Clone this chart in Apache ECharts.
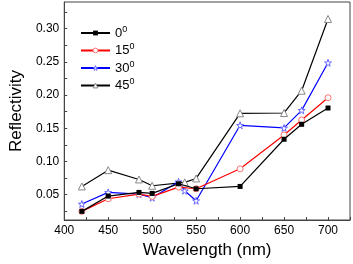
<!DOCTYPE html>
<html>
<head>
<meta charset="utf-8">
<script src="https://cdn.jsdelivr.net/npm/echarts@6/dist/echarts.min.js"></script>
<style>
    html, body { margin: 0; padding: 0; background: #fff; }
    #chart { width: 353px; height: 264px; }
</style>
</head>
<body>
<div id="chart"></div>
<script>
    // wavelength (nm)
    const wavelengths0 = [420, 450, 485, 500, 530, 550, 600, 650, 670, 700]
    const angle0 = [0.025, 0.048, 0.0535, 0.052, 0.0665, 0.059, 0.0625, 0.1335, 0.156, 0.1805]
    const wavelengths15 = [420, 450, 485, 500, 530, 550, 600, 650, 670, 700]
    const angle15 = [0.025, 0.044, 0.051, 0.0475, 0.0615, 0.059, 0.089, 0.14, 0.1625, 0.196]
    const wavelengths30 = [420, 450, 485, 500, 530, 537, 550, 600, 650, 670, 700]
    const angle30 = [0.036, 0.0535, 0.051, 0.0455, 0.0695, 0.056, 0.041, 0.1545, 0.1505, 0.177, 0.2485]
    const wavelengths45 = [420, 450, 485, 500, 537, 550, 600, 650, 670, 700]
    const angle45 = [0.0625, 0.087, 0.073, 0.0635, 0.0686, 0.0745, 0.1725, 0.173, 0.2065, 0.3145]
    const seriesNames = ['0', '15', '30', '45']

    const xLabels = [400, 450, 500, 550, 600, 650, 700]
    const xTicks = [400, 425, 450, 475, 500, 525, 550, 575, 600, 625, 650, 675, 700, 725]
    const yLabels = [0.05, 0.10, 0.15, 0.20, 0.25, 0.30]
    const yTicks = [0.025, 0.05, 0.075, 0.10, 0.125, 0.15, 0.175, 0.20, 0.225, 0.25, 0.275, 0.30, 0.325]

    const font = 'Liberation Sans, Arial, sans-serif'
    const starPath = 'path://M50,0 L61,35 L98,35 L68,57 L79,91 L50,70 L21,91 L32,57 L2,35 L39,35 Z'

    //  marker styles per series, shared by plot and legend
    const marks = [
        { symbol: 'rect', size: 5, line: '#000', item: { color: '#000' } },
        { symbol: 'circle', size: 6, line: '#ff0000', item: { color: '#fff', borderColor: '#ff7070', borderWidth: 1 } },
        { symbol: starPath, size: 7, line: '#0000ff', item: { color: '#fff', borderColor: '#6666ff', borderWidth: 1 } },
        { symbol: 'triangle', size: 7, line: '#000', item: { color: '#fff', borderColor: '#888', borderWidth: 1 } }
    ]

    function pairs(xs, ys) {
        return xs.map((x, i) => [x, ys[i]])
    }

    const xsList = [wavelengths0, wavelengths15, wavelengths30, wavelengths45]
    const ysList = [angle0, angle15, angle30, angle45]

    const chart = echarts.init(document.getElementById('chart'))
    const option = {
        animation: false,
        textStyle: { fontFamily: font },
        grid: {
            left: 54,
            right: 3,
            top: 2,
            bottom: 43,
            show: true,
            borderColor: '#444',
            borderWidth: 1
        },
        legend: {
            orient: 'vertical',
            left: 75,
            top: 20,
            itemWidth: 29,
            itemHeight: 6,
            itemGap: 3,
            data: seriesNames.map((name, i) => ({
                name: name,
                itemStyle: marks[i].item
            })),
            formatter: name => '{n|' + name + '}{s|0}',
            textStyle: {
                color: '#000',
                fontFamily: font,
                rich: {
                    n: { fontSize: 13, fontFamily: font, color: '#000' },
                    s: { fontSize: 9, fontFamily: font, color: '#000', padding: [0, 0, 7, 0] }
                }
            }
        },
        xAxis: {
            type: 'value',
            min: 400,
            max: 725,
            name: 'Wavelength (nm)',
            nameLocation: 'middle',
            nameGap: 22,
            nameTextStyle: { fontSize: 17, color: '#000', fontFamily: font },
            axisLine: { lineStyle: { color: '#444', width: 1 } },
            axisTick: { inside: true, length: 3, customValues: xTicks, lineStyle: { color: '#444' } },
            axisLabel: { customValues: xLabels, fontSize: 12, color: '#000', margin: 5, fontFamily: font },
            splitLine: { show: false }
        },
        yAxis: {
            type: 'value',
            min: 0.012,
            max: 0.34,
            name: 'Reflectivity',
            nameLocation: 'middle',
            nameGap: 35,
            nameTextStyle: { fontSize: 17, color: '#000', fontFamily: font },
            axisLine: { show: true, lineStyle: { color: '#444', width: 1 } },
            axisTick: { inside: true, length: 3, customValues: yTicks, lineStyle: { color: '#444' } },
            axisLabel: {
                customValues: yLabels,
                fontSize: 12,
                color: '#000',
                margin: 5,
                fontFamily: font,
                formatter: v => v.toFixed(2)
            },
            splitLine: { show: false }
        },
        series: seriesNames.map((name, i) => ({
            name: name,
            type: 'line',
            data: pairs(xsList[i], ysList[i]),
            symbol: marks[i].symbol,
            symbolSize: marks[i].size,
            lineStyle: { color: marks[i].line, width: 1.2 },
            itemStyle: marks[i].item,
            z: 4 - i
        }))
    }
    chart.setOption(option)
    window.addEventListener('resize', () => {
        chart.resize()
    })
</script>
</body>
</html>
